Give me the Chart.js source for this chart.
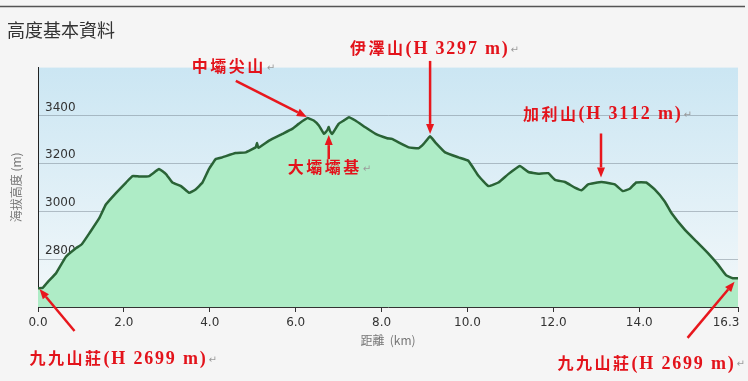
<!DOCTYPE html>
<html>
<head>
<meta charset="utf-8">
<script src="https://cdn.jsdelivr.net/npm/chart.js@4.4.0/dist/chart.umd.min.js"></script>
<style>
  html, body { margin: 0; padding: 0; background: #f5f5f5; }
</style>
</head>
<body>
<canvas id="profile" width="748" height="381"></canvas>
<script>
// elevation profile
const distanceKm = [
  0.00, 0.11, 0.23, 0.42, 0.65, 0.89, 1.02, 1.20, 1.43, 1.58, 1.82, 2.05, 2.20, 2.36, 2.59,
  2.82, 2.98, 3.13, 3.33, 3.52, 3.67, 3.83, 3.98, 4.14, 4.29, 4.60, 4.84, 5.07, 5.10, 5.13,
  5.38, 5.69, 5.92, 6.07, 6.27, 6.42, 6.54, 6.66, 6.74, 6.77, 6.80, 6.85, 7.00, 7.12, 7.24,
  7.39, 7.62, 7.86, 8.13, 8.24, 8.63, 8.86, 8.98, 9.13, 9.25, 9.48, 9.79, 10.02, 10.26, 10.49,
  10.72, 10.95, 11.22, 11.42, 11.65, 11.88, 12.04, 12.27, 12.50, 12.66, 12.81, 13.12, 13.43, 13.62, 13.78,
  13.93, 14.16, 14.36, 14.59, 14.75, 15.06, 15.33, 15.60, 15.84, 16.02, 16.18, 16.30
];
const elevationM = [
  2678, 2680, 2705, 2741, 2810, 2846, 2862, 2909, 2972, 3028, 3077, 3120, 3147, 3145, 3147,
  3176, 3155, 3120, 3105, 3077, 3091, 3120, 3176, 3218, 3225, 3243, 3246, 3267, 3285, 3265,
  3295, 3323, 3344, 3365, 3389, 3379, 3358, 3323, 3340, 3352, 3335, 3323, 3365, 3379, 3393,
  3379, 3351, 3323, 3305, 3302, 3267, 3263, 3281, 3313, 3288, 3246, 3225, 3211, 3147, 3105,
  3120, 3155, 3189, 3164, 3157, 3159, 3131, 3122, 3099, 3088, 3112, 3122, 3112, 3084, 3094,
  3120, 3120, 3091, 3042, 2993, 2923, 2874, 2825, 2776, 2733, 2720, 2720
];

const xTicks = [0, 2, 4, 6, 8, 10, 12, 14, 16.3];
const yTicks = [2800, 3000, 3200, 3400];

// annotated spots: label, distance, elevation at the arrow tip
const markerNames = ['中壩尖山', '大壩壩基', '伊澤山(H 3297 m)', '加利山(H 3112 m)', '九九山莊(H 2699 m)', '九九山莊(H 2699 m)'];
const markerKm = [6.26, 6.77, 9.13, 13.11, 0.035, 16.22];
const markerElev = [3394, 3318, 3323, 3141, 2675, 2705];

// pixel offsets from the tip: arrow tail and text start
const markerLayout = [
  { tail: [-71, -36], text: [-115, -51] },
  { tail: [0, 24], text: [-41, 32] },
  { tail: [0, -73], text: [-80, -86] },
  { tail: [0, -44], text: [-78, -64] },
  { tail: [35, 42], text: [-10, 69] },
  { tail: [-47, 56], text: [-177, 81] }
];

function drawArrow(ctx, x1, y1, x2, y2) {
  const ang = Math.atan2(y2 - y1, x2 - x1);
  const head = 10, half = 4;
  ctx.strokeStyle = '#e8171d';
  ctx.fillStyle = '#e8171d';
  ctx.lineWidth = 2.5;
  ctx.beginPath();
  ctx.moveTo(x1, y1);
  ctx.lineTo(x2 - Math.cos(ang) * head, y2 - Math.sin(ang) * head);
  ctx.stroke();
  ctx.beginPath();
  ctx.moveTo(x2, y2);
  ctx.lineTo(x2 - Math.cos(ang) * head - Math.sin(ang) * half, y2 - Math.sin(ang) * head + Math.cos(ang) * half);
  ctx.lineTo(x2 - Math.cos(ang) * head + Math.sin(ang) * half, y2 - Math.sin(ang) * head - Math.cos(ang) * half);
  ctx.closePath();
  ctx.fill();
}

function drawLabel(ctx, text, x, y) {
  ctx.textBaseline = 'middle';
  ctx.textAlign = 'left';
  ctx.fillStyle = '#e3131b';
  for (const ch of text) {
    if (ch.charCodeAt(0) > 0x2e80) {
      ctx.font = 'bold 16px "Noto Sans CJK TC"';
      ctx.fillText(ch, x, y);
      x += ctx.measureText(ch).width + 2.5;
    } else {
      ctx.font = 'bold 18px "Liberation Serif"';
      ctx.fillText(ch, x, y + 1);
      x += ctx.measureText(ch).width + 1.8;
    }
  }
  ctx.fillStyle = '#9a9a9a';
  ctx.font = '10px "DejaVu Sans"';
  ctx.fillText('↵', x + 1, y + 2);
}

const backdrop = {
  id: 'backdrop',
  beforeDraw(chart) {
    const { ctx, chartArea: a } = chart;
    ctx.save();
    ctx.fillStyle = '#f5f5f5';
    ctx.fillRect(0, 0, chart.width, chart.height);
    ctx.strokeStyle = '#555';
    ctx.lineWidth = 1.5;
    ctx.beginPath();
    ctx.moveTo(0, 6.5);
    ctx.lineTo(745, 6.5);
    ctx.stroke();
    const g = ctx.createLinearGradient(0, a.top, 0, a.bottom);
    g.addColorStop(0, '#cbe6f3');
    g.addColorStop(1, '#f3f8fa');
    ctx.fillStyle = g;
    ctx.fillRect(a.left, a.top, a.right - a.left, a.bottom - a.top);
    ctx.restore();
  },
  afterDraw(chart) {
    const { ctx, scales } = chart;
    ctx.save();
    markerNames.forEach((name, i) => {
      const tx = scales.x.getPixelForValue(markerKm[i]);
      const ty = scales.y.getPixelForValue(markerElev[i]);
      const lay = markerLayout[i];
      drawArrow(ctx, tx + lay.tail[0], ty + lay.tail[1], tx, ty);
      drawLabel(ctx, name, tx + lay.text[0], ty + lay.text[1]);
    });
    ctx.restore();
  }
};

new Chart(document.getElementById('profile'), {
  type: 'line',
  data: {
    datasets: [{
      data: distanceKm.map((x, i) => ({ x, y: elevationM[i] })),
      borderColor: '#2a6336',
      borderWidth: 2.5,
      backgroundColor: '#aeecc6',
      fill: 'start',
      pointRadius: 0,
      tension: 0.1
    }]
  },
  options: {
    responsive: false,
    animation: false,
    devicePixelRatio: 1,
    layout: { padding: { left: 7, right: 10, top: 0, bottom: 0 } },
    plugins: {
      legend: { display: false },
      tooltip: { enabled: false },
      title: {
        display: true,
        text: '高度基本資料',
        align: 'start',
        color: '#333',
        font: { family: 'Noto Sans CJK TC', size: 18, weight: 'normal' },
        padding: { top: 19, bottom: 27 }
      }
    },
    scales: {
      x: {
        type: 'linear',
        min: 0,
        max: 16.3,
        afterBuildTicks: s => { s.ticks = xTicks.map(v => ({ value: v })); },
        afterFit: s => { s.height = 74; s.paddingLeft = 0; s.paddingRight = 0; },
        grid: { drawOnChartArea: false, drawTicks: true, tickLength: 5, color: '#333' },
        border: { color: '#333', width: 1 },
        ticks: {
          padding: 4,
          color: '#333',
          autoSkip: false,
          maxRotation: 0,
          font: { family: 'DejaVu Sans', size: 12 },
          callback: v => v === 16.3 ? '16.3\u2003\u2003' : v.toFixed(1)
        },
        title: {
          display: true,
          text: '距離  (km)',
          color: '#777',
          font: { family: 'Noto Sans CJK TC', size: 12 },
          padding: { top: 0, bottom: 33 }
        }
      },
      y: {
        type: 'linear',
        min: 2600,
        max: 3600,
        z: 1,
        afterBuildTicks: s => { s.ticks = [2600, ...yTicks, 3600].map(v => ({ value: v })); },
        afterFit: s => { s.width = 31; s.paddingTop = 0; s.paddingBottom = 0; },
        grid: {
          drawTicks: false,
          color: c => yTicks.includes(c.tick.value) ? 'rgba(110,125,135,0.45)' : 'transparent'
        },
        border: { color: '#222', width: 1 },
        ticks: {
          mirror: true,
          padding: 7,
          labelOffset: -8,
          color: '#333',
          font: { family: 'DejaVu Sans', size: 12 },
          callback: v => yTicks.includes(v) ? String(v) : ''
        },
        title: {
          display: true,
          text: '海拔高度 (m)',
          color: '#777',
          font: { family: 'Noto Sans CJK TC', size: 12 },
          padding: { top: 2.5, bottom: 0 }
        }
      }
    }
  },
  plugins: [backdrop]
});
</script>
</body>
</html>
